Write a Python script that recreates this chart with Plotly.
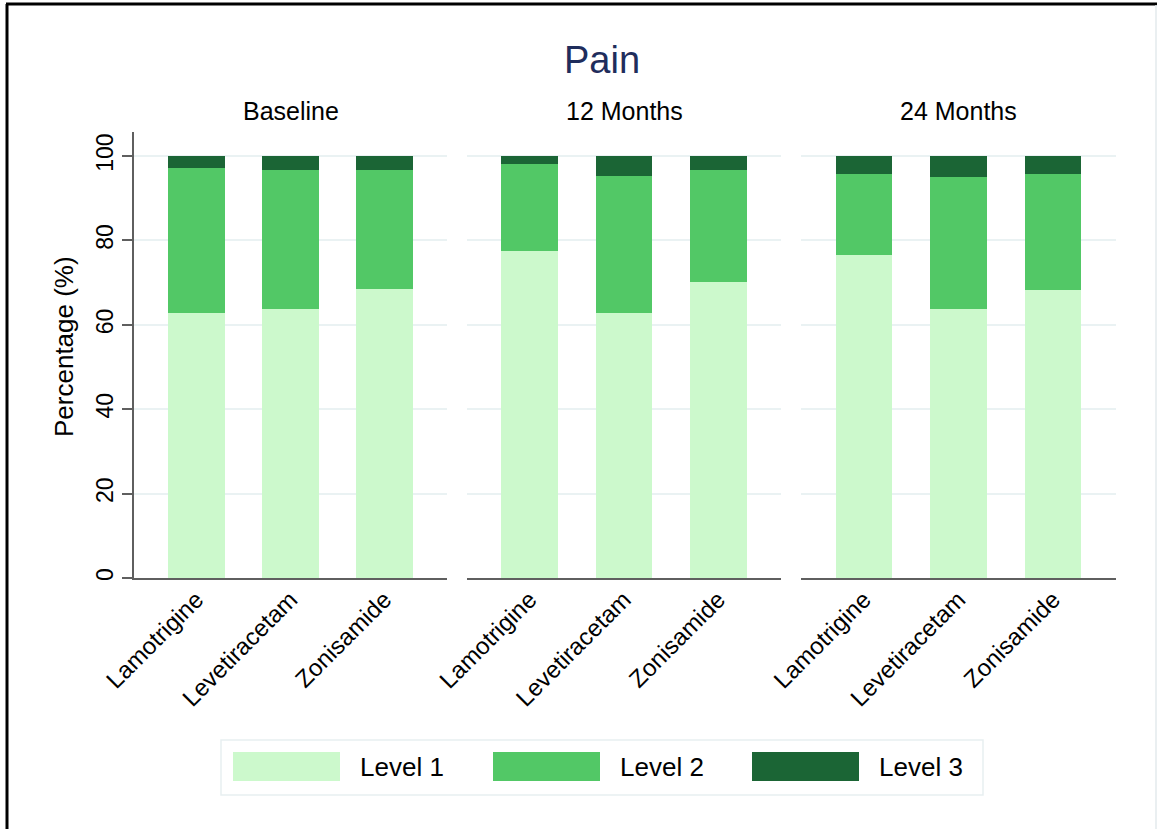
import plotly.graph_objects as go

# Pain level distribution by drug and visit
drugs = ["Lamotrigine", "Levetiracetam", "Zonisamide"]
periods = ["Baseline", "12 Months", "24 Months"]
level_names = ["Level 1", "Level 2", "Level 3"]
level_colors = ["#ccf9cc", "#52c866", "#1b6535"]

# percentages per period (rows) and drug (columns)
level1 = [[62.8, 63.7, 68.4], [77.6, 62.7, 70.2], [76.5, 63.7, 68.2]]
level2 = [[34.4, 32.9, 28.2], [20.6, 32.6, 26.4], [19.3, 31.3, 27.6]]
level3 = [[2.8, 3.4, 3.4], [1.8, 4.7, 3.4], [4.2, 5.0, 4.2]]
y_ticks = [0, 20, 40, 60, 80, 100]

W, H = 1169, 829
FONT = "Liberation Sans, Arial, sans-serif"


def px(x):
    return x / W


def py(y):
    return 1 - y / H


panel_px = [(134, 447), (467, 781), (801, 1116)]
y_top, y_bottom = 132, 578

fig = go.Figure()
levels = [level1, level2, level3]
for p, period in enumerate(periods):
    suffix = "" if p == 0 else str(p + 1)
    for lv, name in enumerate(level_names):
        fig.add_trace(go.Bar(
            x=drugs, y=levels[lv][p], name=name,
            marker=dict(color=level_colors[lv], line=dict(width=0)),
            xaxis="x" + suffix, yaxis="y" + suffix,
            showlegend=False,
            hovertemplate=period + "<br>%{x}<br>" + name + ": %{y:.1f}%<extra></extra>",
        ))

layout = dict(
    width=W, height=H,
    margin=dict(l=0, r=0, t=0, b=0, pad=0, autoexpand=False),
    paper_bgcolor="white", plot_bgcolor="white",
    barmode="stack", bargap=0.4,
    font=dict(family=FONT, color="black"),
    showlegend=False,
)

for p, (x0, x1) in enumerate(panel_px):
    suffix = "" if p == 0 else str(p + 1)
    layout["xaxis" + suffix] = dict(
        domain=[px(x0), px(x1)], anchor="y" + suffix,
        type="category", range=[-0.665, 2.665], automargin=False,
        showline=True, linecolor="#5f5f5f", linewidth=2,
        showgrid=False, ticks="", tickangle=-45, ticklabelstandoff=-4,
        tickfont=dict(size=24, family=FONT, color="black"),
        fixedrange=True,
    )
    ydef = dict(
        domain=[py(y_bottom), py(y_top)], anchor="x" + suffix,
        range=[0, 105.7], tickvals=y_ticks, automargin=False,
        showgrid=True, gridcolor="#eaf2f3", gridwidth=2,
        zeroline=False, fixedrange=True,
    )
    if p == 0:
        ydef.update(
            showline=True, linecolor="#5f5f5f", linewidth=1.5,
            ticks="outside", ticklen=10, tickcolor="#5f5f5f", tickwidth=1.5,
            tickangle=-90, tickfont=dict(size=23, family=FONT, color="black"),
        )
    else:
        ydef.update(showline=False, showticklabels=False, ticks="", matches="y")
    layout["yaxis" + suffix] = ydef

annotations = [
    dict(text="Pain", x=px(602), y=py(60), xref="paper", yref="paper",
         showarrow=False, font=dict(size=38, color="#1f2d5c", family=FONT),
         xanchor="center", yanchor="middle"),
    dict(text="Percentage (%)", x=px(64), y=py(347), xref="paper", yref="paper",
         showarrow=False, textangle=-90, font=dict(size=26, color="black", family=FONT),
         xanchor="center", yanchor="middle"),
]
for p, (x0, x1) in enumerate(panel_px):
    annotations.append(dict(
        text=periods[p], x=px((x0 + x1) / 2), y=py(111), xref="paper", yref="paper",
        showarrow=False, font=dict(size=25, color="black", family=FONT),
        xanchor="center", yanchor="middle"))

shapes = [
    # outer frame
    dict(type="line", xref="paper", yref="paper", x0=px(7), x1=px(7), y0=0, y1=py(4),
         line=dict(color="black", width=3)),
    dict(type="line", xref="paper", yref="paper", x0=px(6), x1=px(1157), y0=py(4), y1=py(4),
         line=dict(color="black", width=3)),
    dict(type="line", xref="paper", yref="paper", x0=px(1156), x1=px(1156), y0=0, y1=py(5),
         line=dict(color="#e3eaed", width=1.5)),
    # legend box
    dict(type="rect", xref="paper", yref="paper", x0=px(221), x1=px(983), y0=py(795), y1=py(740),
         line=dict(color="#e8eff1", width=1.5), fillcolor="white"),
]

swatch_x = [233, 493, 752]
for lv, name in enumerate(level_names):
    sx = swatch_x[lv]
    shapes.append(dict(type="rect", xref="paper", yref="paper",
                       x0=px(sx), x1=px(sx + 107), y0=py(781), y1=py(752),
                       fillcolor=level_colors[lv], line=dict(width=0)))
    annotations.append(dict(text=name, x=px(sx + 125), y=py(767), xref="paper", yref="paper",
                            showarrow=False, font=dict(size=26, color="black", family=FONT),
                            xanchor="left", yanchor="middle"))

layout["annotations"] = annotations
layout["shapes"] = shapes
fig.update_layout(**layout)

fig.write_html("out.html")
